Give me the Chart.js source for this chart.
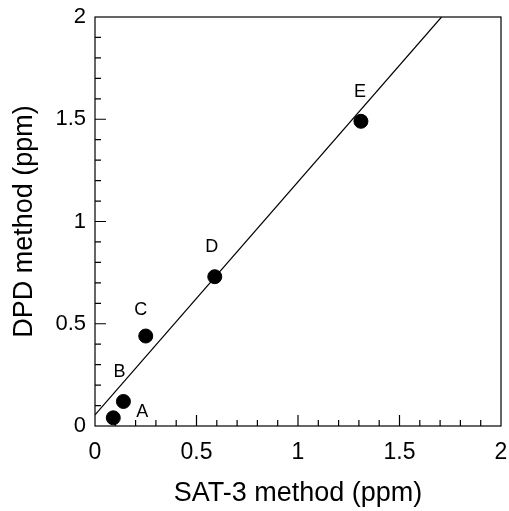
<!DOCTYPE html>
<html lang="en">

<head>
    <meta charset="UTF-8">
    <title>SAT-3 vs DPD</title>
    <script src="https://cdn.jsdelivr.net/npm/chart.js"></script>
    <style>
        body {
            margin: 0;
            background: #fff;
            overflow: hidden;
        }

        canvas {
            display: block;
        }
    </style>
</head>

<body>
    <canvas id="chart" width="509" height="511"></canvas>

    <script>
        // samples measured both ways
        const sampleNames = ['A', 'B', 'C', 'D', 'E'];
        const sat3Ppm = [0.09, 0.14, 0.25, 0.59, 1.31];
        const dpdPpm = [0.04, 0.12, 0.44, 0.73, 1.49];

        // regression line end points
        const fitX = [0, 1.707];
        const fitY = [0.054, 2];

        const axisTicks = [0, 0.5, 1, 1.5, 2];

        // where each letter sits relative to its dot (px)
        const nameOffsets = [[29, -6], [-4, -29], [-5, -26], [-3, -30], [-1, -29]];

        const FONT = 'Liberation Sans, Arial, Helvetica, sans-serif';

        // inward major/minor ticks on left and bottom, plus the frame
        const frame = {
            id: 'frame',
            afterDraw(chart) {
                const { ctx, chartArea: a, scales: { x, y } } = chart;
                ctx.save();
                ctx.strokeStyle = '#000';
                ctx.lineWidth = 1.2;
                ctx.strokeRect(a.left, a.top, a.right - a.left, a.bottom - a.top);
                ctx.beginPath();
                for (let i = 1; i < 20; i++) {
                    const v = i / 10;
                    const len = i % 5 === 0 ? 11 : 6;
                    const px = x.getPixelForValue(v);
                    ctx.moveTo(px, a.bottom);
                    ctx.lineTo(px, a.bottom - len);
                    const py = y.getPixelForValue(v);
                    ctx.moveTo(a.left, py);
                    ctx.lineTo(a.left + len, py);
                }
                ctx.stroke();

                // sample letters
                ctx.fillStyle = '#000';
                ctx.font = '18px ' + FONT;
                ctx.textAlign = 'center';
                ctx.textBaseline = 'middle';
                sampleNames.forEach((n, i) => {
                    const px = x.getPixelForValue(sat3Ppm[i]) + nameOffsets[i][0];
                    const py = y.getPixelForValue(dpdPpm[i]) + nameOffsets[i][1];
                    ctx.fillText(n, px, py);
                });
                ctx.restore();
            }
        };

        new Chart(document.getElementById('chart'), {
            type: 'scatter',
            data: {
                datasets: [{
                    data: sat3Ppm.map((v, i) => ({ x: v, y: dpdPpm[i] })),
                    backgroundColor: '#000',
                    borderColor: '#000',
                    pointRadius: 7,
                    pointHoverRadius: 7
                }, {
                    data: fitX.map((v, i) => ({ x: v, y: fitY[i] })),
                    showLine: true,
                    borderColor: '#000',
                    borderWidth: 1.2,
                    pointRadius: 0
                }]
            },
            options: {
                responsive: false,
                animation: false,
                layout: { padding: { top: 17, right: 6, left: 0, bottom: 0 } },
                plugins: { legend: { display: false }, tooltip: { enabled: false } },
                scales: {
                    x: {
                        min: 0, max: 2,
                        afterFit: s => { s.height = 85; s.paddingLeft = 0; s.paddingRight = 0; },
                        afterBuildTicks: s => { s.ticks = axisTicks.map(v => ({ value: v })); },
                        grid: { display: false, drawTicks: false },
                        border: { display: false },
                        ticks: {
                            color: '#000', padding: 13, maxRotation: 0,
                            font: { family: FONT, size: 23 },
                            callback: v => String(v)
                        },
                        title: {
                            display: true, text: 'SAT-3 method (ppm)', color: '#000',
                            font: { family: FONT, size: 27 }, padding: { top: 0, bottom: 1 }
                        }
                    },
                    y: {
                        min: 0, max: 2,
                        afterFit: s => { s.width = 95; s.paddingTop = 0; s.paddingBottom = 0; },
                        afterBuildTicks: s => { s.ticks = axisTicks.map(v => ({ value: v })); },
                        grid: { display: false, drawTicks: false },
                        border: { display: false },
                        ticks: {
                            color: '#000', padding: 9,
                            font: { family: FONT, size: 22 },
                            callback: v => String(v)
                        },
                        title: {
                            display: true, text: 'DPD method (ppm)', color: '#000',
                            font: { family: FONT, size: 27 }, padding: { top: 8, bottom: 0 }
                        }
                    }
                }
            },
            plugins: [frame]
        });
    </script>
</body>

</html>
